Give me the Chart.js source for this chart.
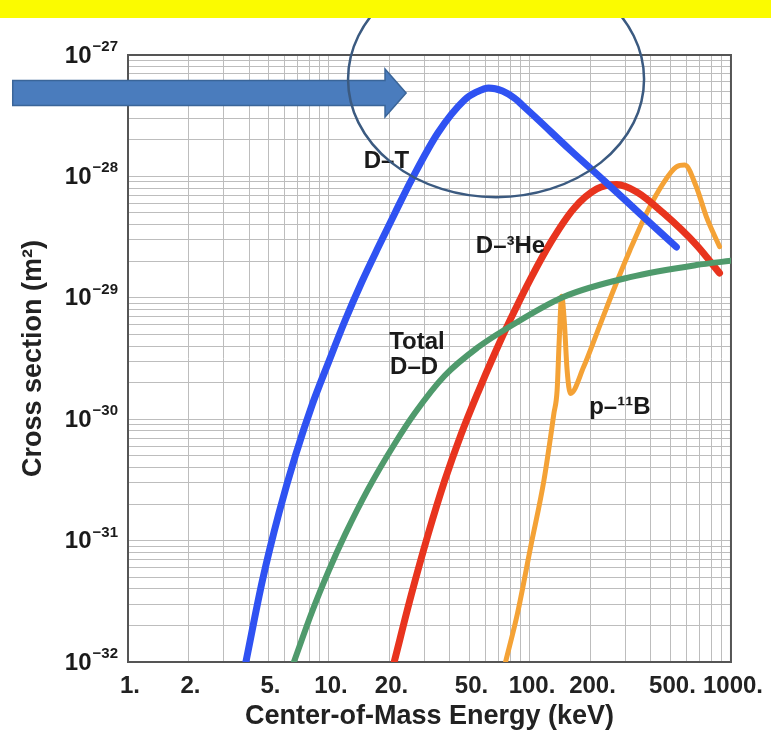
<!DOCTYPE html>
<html>
<head>
<meta charset="utf-8">
<script src="https://cdn.jsdelivr.net/npm/chart.js@4.4.1/dist/chart.umd.min.js"></script>
<style>
  html, body { margin: 0; padding: 0; background: #fff; }
  canvas { display: block; }
</style>
</head>
<body>
<canvas id="xsec" width="771" height="730" style="width:771px;height:730px"></canvas>
<script>
// curves: energy in keV, cross section in m^2
const dtEnergy = [3.86, 4.67, 5.64, 6.82, 8.24, 9.96, 12.05, 14.56, 17.6, 21.3, 25.7, 34.8, 47.2, 54.3, 62.3, 73.0, 83.5, 94.9, 108.8, 158.5, 232, 352, 535];
const dtSigma = [1e-32, 4.73e-32, 1.69e-31, 5.07e-31, 1.31e-30, 2.96e-30, 6.56e-30, 1.35e-29, 2.62e-29, 5.0e-29, 9.33e-29, 2.28e-28, 4.26e-28, 4.96e-28, 5.35e-28, 5.05e-28, 4.42e-28, 3.66e-28, 2.97e-28, 1.65e-28, 9.33e-29, 4.94e-29, 2.62e-29];

const dheEnergy = [21.1, 25.7, 31.1, 37.6, 45.4, 55.0, 66.5, 80.3, 100.8, 126.6, 165, 215, 270, 340, 460, 674, 877];
const dheSigma = [1e-32, 3.6e-32, 1.12e-31, 3.1e-31, 7.48e-31, 1.65e-30, 3.43e-30, 6.74e-30, 1.44e-29, 2.85e-29, 5.42e-29, 7.89e-29, 8.57e-29, 7.44e-29, 5.0e-29, 2.72e-29, 1.6e-29];

const ddEnergy = [6.69, 8.24, 9.97, 12.05, 15.7, 21.3, 26.7, 37.6, 55.0, 74.5, 147.5, 314.6, 672, 1000];
const ddSigma = [1e-32, 2.6e-32, 5.64e-32, 1.13e-31, 2.68e-31, 6.34e-31, 1.12e-30, 2.28e-30, 3.9e-30, 5.43e-30, 1.02e-29, 1.48e-29, 1.86e-29, 2.02e-29];

const pbEnergy = [75.6, 86.7, 100.8, 117.4, 131.6, 136.5, 139.8, 143.8, 148, 153, 159, 185, 215, 260.5, 314.6, 380, 460, 535, 589, 672, 754, 877];
const pbSigma = [1e-32, 2.52e-32, 8.9e-32, 3.15e-31, 1.12e-30, 1.74e-30, 4.49e-30, 1.03e-29, 6.56e-30, 2.54e-30, 1.63e-30, 2.7e-30, 5.1e-30, 1.16e-29, 2.48e-29, 4.97e-29, 8.77e-29, 1.2e-28, 1.24e-28, 8.22e-29, 4.66e-29, 2.64e-29];

// axis ticks
const xLabelValues = [1, 2, 5, 10, 20, 50, 100, 200, 500, 1000];
const xTickLabels = ['1.', '2.', '5.', '10.', '20.', '50.', '100.', '200.', '500.', '1000.'];
const yExponents = [-32, -31, -30, -29, -28, -27];

// text labels next to the curves
const curveNames = ['D\u2013T', 'D\u2013\u00b3He', 'Total', 'D\u2013D', 'p\u2013\u00b9\u00b9B'];
const nameEnergy = [19.3, 80, 27.4, 26.5, 280];
const nameSigma = [1.34e-28, 2.67e-29, 4.33e-30, 2.69e-30, 1.26e-30];

function toPoints(xs, ys) {
    return xs.map((x, i) => ({x: x, y: ys[i]}));
}

// every 1..9 multiple of each decade, for the log grid
function decadeTicks(fromExp, toExp) {
    const out = [];
    for (let e = fromExp; e < toExp; e++) {
        for (let m = 1; m <= 9; m++) out.push({value: m * Math.pow(10, e)});
    }
    out.push({value: Math.pow(10, toExp)});
    return out;
}

const labelFont = "'Liberation Sans', Arial, sans-serif";
const textColor = '#222';
const gridColor = '#bdbdbd';

const overlay = {
    id: 'overlay',
    beforeDatasetsDraw(chart) {
        const {ctx, chartArea: a} = chart;
        ctx.save();
        ctx.strokeStyle = '#555';
        ctx.lineWidth = 2;
        ctx.strokeRect(a.left, a.top, a.right - a.left, a.bottom - a.top);
        ctx.restore();
    },
    afterDatasetsDraw(chart) {
        const {ctx, scales, chartArea: a} = chart;
        ctx.save();
        ctx.fillStyle = '#1a1a1a';

        // curve names
        ctx.font = 'bold 24px ' + labelFont;
        ctx.textAlign = 'center';
        ctx.textBaseline = 'middle';
        curveNames.forEach((t, i) => {
            ctx.fillText(t, scales.x.getPixelForValue(nameEnergy[i]), scales.y.getPixelForValue(nameSigma[i]));
        });

        // y tick labels as 10 with a raised exponent
        ctx.textAlign = 'right';
        yExponents.forEach(e => {
            const py = scales.y.getPixelForValue(Math.pow(10, e));
            const expText = '\u2212' + String(-e);
            ctx.font = 'bold 15px ' + labelFont;
            ctx.textBaseline = 'alphabetic';
            const w = ctx.measureText(expText).width;
            ctx.fillText(expText, a.left - 10, py - 4);
            ctx.font = 'bold 24px ' + labelFont;
            ctx.textBaseline = 'middle';
            ctx.fillText('10', a.left - 11 - w, py + 1);
        });
        ctx.restore();
    },
    afterDraw(chart) {
        const {ctx, scales} = chart;
        const x = scales.x, y = scales.y;
        ctx.save();

        // big arrow pointing at the D-T peak
        const ay = y.getPixelForValue(4.86e-28);
        const tail = x.getPixelForValue(0.267);
        const neck = x.getPixelForValue(19.0);
        const tip = x.getPixelForValue(24.2);
        ctx.beginPath();
        ctx.moveTo(tail, ay - 12.5);
        ctx.lineTo(neck, ay - 12.5);
        ctx.lineTo(neck, ay - 24);
        ctx.lineTo(tip, ay);
        ctx.lineTo(neck, ay + 24);
        ctx.lineTo(neck, ay + 12.5);
        ctx.lineTo(tail, ay + 12.5);
        ctx.closePath();
        ctx.fillStyle = '#4a7cbd';
        ctx.fill();
        ctx.strokeStyle = '#3a6599';
        ctx.lineWidth = 1.5;
        ctx.stroke();

        // circle round the peak
        ctx.beginPath();
        ctx.ellipse(x.getPixelForValue(67.8), y.getPixelForValue(6.32e-28), 148, 118, 0, 0, Math.PI * 2);
        ctx.strokeStyle = '#3b5a80';
        ctx.lineWidth = 2.5;
        ctx.stroke();

        // yellow strip of the slide title, cut off at the top
        ctx.fillStyle = '#fbfb00';
        ctx.fillRect(0, 0, chart.width, 18);
        ctx.restore();
    }
};

const curveStyle = {
    borderWidth: 7,
    pointRadius: 0,
    fill: false,
    cubicInterpolationMode: 'monotone',
    borderCapStyle: 'round',
    borderJoinStyle: 'round'
};

new Chart(document.getElementById('xsec'), {
    type: 'line',
    data: {
        datasets: [
            {label: 'D-T', data: toPoints(dtEnergy, dtSigma), borderColor: '#2f52f2', ...curveStyle},
            {label: 'Total D-D', data: toPoints(ddEnergy, ddSigma), borderColor: '#4f9a6c', ...curveStyle, borderWidth: 6},
            {label: 'D-3He', data: toPoints(dheEnergy, dheSigma), borderColor: '#e8341e', ...curveStyle},
            {label: 'p-11B', data: toPoints(pbEnergy, pbSigma), borderColor: '#f4a236', ...curveStyle, borderWidth: 5}
        ]
    },
    options: {
        responsive: false,
        animation: false,
        layout: {padding: {top: 55, right: 36, left: 0, bottom: 0}},
        plugins: {
            legend: {display: false},
            tooltip: {enabled: false}
        },
        scales: {
            x: {
                type: 'logarithmic',
                min: 1,
                max: 1000,
                afterBuildTicks: (s) => { s.ticks = decadeTicks(0, 3); },
                afterFit: (s) => { s.height = 68; },
                grid: {color: gridColor, lineWidth: 1, drawTicks: false},
                border: {display: false},
                ticks: {
                    autoSkip: false,
                    maxRotation: 0,
                    padding: 10,
                    labelOffset: 2,
                    color: textColor,
                    font: {family: labelFont, size: 24, weight: 'bold'},
                    callback: (v) => {
                        const i = xLabelValues.findIndex(l => Math.abs(l - v) < 1e-9);
                        return i >= 0 ? xTickLabels[i] : '';
                    }
                },
                title: {
                    display: true,
                    text: 'Center-of-Mass Energy (keV)',
                    color: textColor,
                    font: {family: labelFont, size: 27, weight: 'bold', lineHeight: 1},
                    padding: {top: 0, bottom: 0}
                }
            },
            y: {
                type: 'logarithmic',
                min: 1e-32,
                max: 1e-27,
                afterBuildTicks: (s) => { s.ticks = decadeTicks(-32, -27); },
                afterFit: (s) => { s.width = 128; },
                grid: {color: gridColor, lineWidth: 1, drawTicks: false},
                border: {display: false},
                // labels are drawn by the overlay plugin (need superscripts)
                ticks: {display: false, autoSkip: false},
                title: {
                    display: true,
                    text: 'Cross section (m\u00b2)',
                    color: textColor,
                    font: {family: labelFont, size: 27, weight: 'bold', lineHeight: 1},
                    padding: {top: 20, bottom: 0}
                }
            }
        }
    },
    plugins: [overlay]
});
</script>
</body>
</html>
